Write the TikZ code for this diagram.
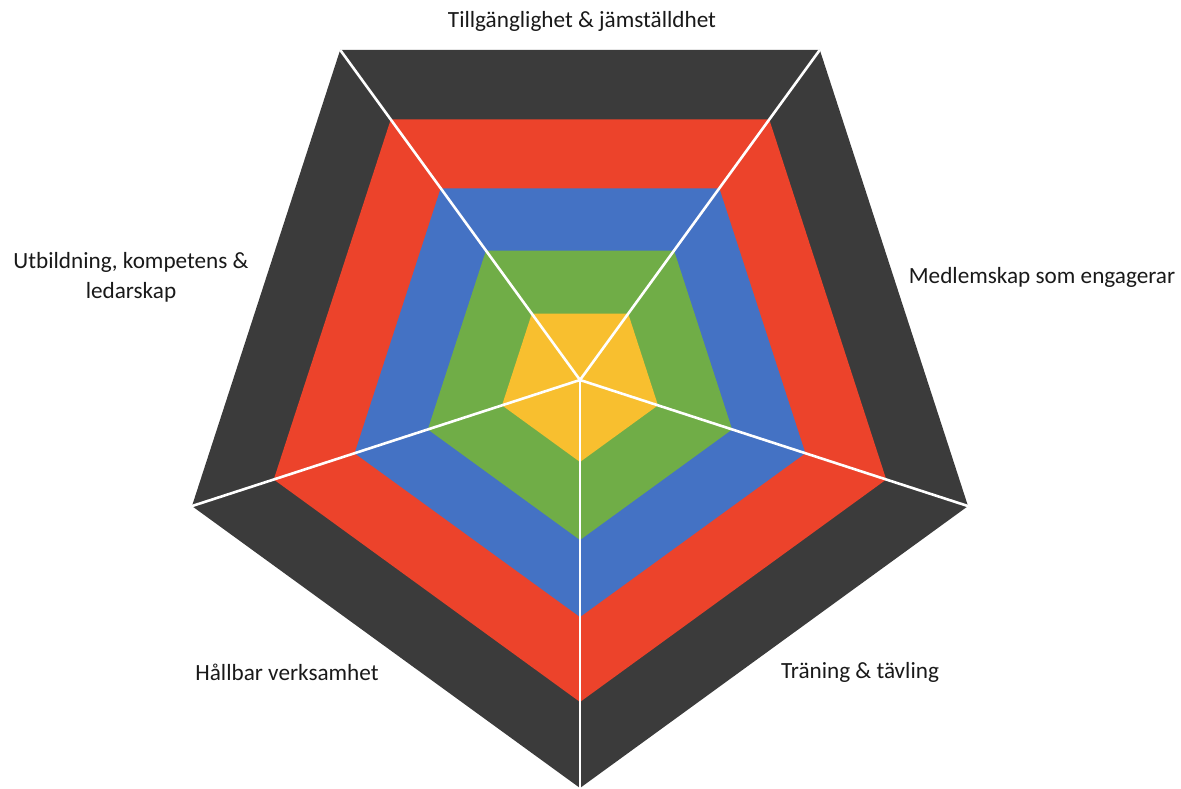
\documentclass[tikz,border=0pt]{standalone}
\usepackage{fontspec}
\setmainfont{Carlito}
\usetikzlibrary{calc}
\definecolor{ringdark}{HTML}{3B3B3B}
\definecolor{ringred}{HTML}{EC432B}
\definecolor{ringblue}{HTML}{4472C4}
\definecolor{ringgreen}{HTML}{70AD47}
\definecolor{ringyellow}{HTML}{F8BF2F}
\begin{document}
\begin{tikzpicture}[x=1pt,y=1pt,
  lbl/.style={font=\fontsize{23.2}{30}\selectfont, text=black!90, align=center, inner sep=0pt},
  spoke/.style={draw=white, line width=2.6pt}]
\useasboundingbox (0,0) rectangle (1181,789);
\coordinate (c) at (580,409);
\foreach \r/\col in {408/ringdark,322/ringred,237/ringblue,160/ringgreen,82/ringyellow}{
  \fill[\col, shift={(580,409)}] (-90:\r) -- (-18:\r) -- (54:\r) -- (126:\r) -- (198:\r) -- cycle;
}
\coordinate (vb) at ($(c)+(-90:408)$);
\coordinate (vr) at ($(c)+(-18:408)$);
\coordinate (vtr) at ($(c)+(54:408)$);
\coordinate (vtl) at ($(c)+(126:408)$);
\coordinate (vl) at ($(c)+(198:408)$);
\foreach \v in {vb,vr,vtr,vtl,vl}{ \draw[spoke] (c) -- (\v); }
\node[lbl] (t1) at (582,768) {Tillgänglighet \& jämställdhet};
\node[lbl] (t2) at (1042,512) {Medlemskap som engagerar};
\node[lbl] (t3) at (131,512) {Utbildning, kompetens \&\\ledarskap};
\node[lbl] (t4) at (287,117) {Hållbar verksamhet};
\node[lbl] (t5) at (860,117) {Träning \& tävling};
\end{tikzpicture}
\end{document}
